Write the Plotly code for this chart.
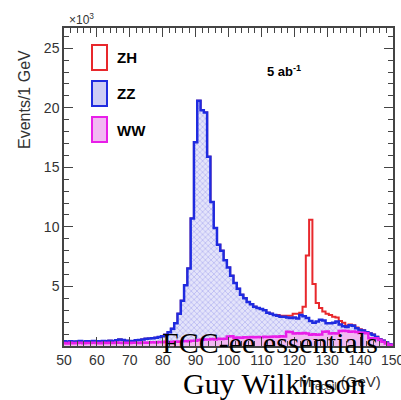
import numpy as np
import plotly.graph_objects as go

# Recoil mass bin centres (GeV), 1 GeV bins
mass = list(range(50, 151))
x_tick_values = [50, 60, 70, 80, 90, 100, 110, 120, 130, 140, 150]
y_tick_values = [5, 10, 15, 20, 25]

# Per-process events per 1 GeV bin (x10^3)
ww_events = [
    0.25, 0.22, 0.27, 0.24, 0.25, 0.28, 0.23, 0.26, 0.25, 0.27,
    0.25, 0.24, 0.28, 0.26, 0.27, 0.25, 0.30, 0.28, 0.26, 0.27,
    0.25, 0.27, 0.28, 0.26, 0.30, 0.28, 0.30, 0.32, 0.30, 0.33,
    0.32, 0.35, 0.34, 0.36, 0.38, 0.36, 0.40, 0.42, 0.40, 0.45,
    0.45, 0.50, 0.52, 0.55, 0.55, 0.58, 0.55, 0.60, 0.58, 0.60,
    0.80, 0.82, 0.70, 0.72, 0.70, 0.74, 0.72, 0.75, 0.73, 0.76,
    0.74, 0.78, 0.76, 0.78, 0.80, 0.78, 0.82, 0.80, 1.20, 1.18,
    1.05, 1.08, 1.05, 1.10, 1.05, 0.95, 0.98, 0.95, 0.97, 1.20,
    1.22, 1.05, 1.08, 1.05, 1.25, 1.28, 1.25, 1.20, 1.22, 1.18,
    1.10, 1.12, 1.08, 0.65, 0.62, 0.65, 0.50, 0.35, 0.20, 0.10, 0.04,
]
zz_events = [
    0.15, 0.13, 0.13, 0.11, 0.13, 0.14, 0.12, 0.14, 0.13, 0.15,
    0.15, 0.14, 0.14, 0.14, 0.18, 0.15, 0.18, 0.27, 0.24, 0.18,
    0.17, 0.13, 0.20, 0.24, 0.25, 0.32, 0.32, 0.33, 0.40, 0.42,
    0.50, 0.60, 0.81, 1.09, 1.52, 2.34, 3.40, 4.68, 6.10, 10.25,
    16.65, 20.10, 19.28, 19.05, 15.35, 11.52, 9.35, 7.90, 7.42, 6.60,
    5.80, 5.08, 4.60, 4.08, 3.60, 3.26, 2.98, 2.75, 2.57, 2.44,
    2.36, 2.22, 2.04, 1.92, 1.80, 1.77, 1.63, 1.65, 1.20, 1.17,
    1.35, 1.22, 1.55, 1.40, 1.30, 1.15, 0.97, 1.10, 1.23, 0.95,
    0.68, 0.85, 0.87, 1.00, 0.55, 0.37, 0.35, 0.55, 0.48, 0.32,
    0.25, 0.18, 0.07, 0.40, 0.33, 0.10, 0.05, 0.10, 0.10, 0.05, 0.01,
]
zh_events = [0.0] * 65 + [
    0.05, 0.08, 0.10, 0.15, 0.20,
    0.30, 0.40, 0.20, 0.80, 5.25, 8.50, 3.25, 1.55, 1.00, 0.75,
    0.80, 0.70, 0.50, 0.35, 0.30, 0.30, 0.10, 0.05, 0.05, 0.05,
    0.05, 0.03, 0.03, 0.02, 0.02, 0.02, 0.01, 0.01, 0.0, 0.0, 0.0,
]

ww = np.array(ww_events)
zz_top = ww + np.array(zz_events)
zh_top = zz_top + np.array(zh_events)

centres = np.array(mass, dtype=float)
edges = np.append(centres - 0.5, centres[-1] + 0.5)


def steps(vals):
    return list(edges), list(np.append(vals, vals[-1]))


fig = go.Figure()

x, y = steps(zh_top)
fig.add_trace(go.Scatter(x=x, y=y, mode="lines", line=dict(color="#e8282c", width=2, shape="hv"),
                         name="ZH", showlegend=False, hoverinfo="skip"))
x, y = steps(zz_top)
fig.add_trace(go.Scatter(x=x, y=y, mode="lines", line=dict(color="#1f2be0", width=2.5, shape="hv"),
                         fill="tozeroy",
                         fillpattern=dict(shape="x", fgcolor="rgba(110,110,230,0.75)",
                                          bgcolor="rgb(228,228,250)", size=4, solidity=0.35),
                         name="ZZ", showlegend=False, hoverinfo="skip"))
x, y = steps(ww)
fig.add_trace(go.Scatter(x=x, y=y, mode="lines", line=dict(color="#e81ee8", width=2.5, shape="hv"),
                         fill="tozeroy", fillcolor="rgb(242,185,242)",
                         name="WW", showlegend=False, hoverinfo="skip"))

axis_font = dict(family="Liberation Sans, Arial, sans-serif", size=14, color="#333")

fig.update_xaxes(range=[50, 150], tickvals=x_tick_values, ticks="inside", ticklen=9, tickwidth=1.2,
                 tickcolor="#444", showline=True, linecolor="#444", linewidth=1.5, mirror="allticks",
                 showgrid=False, zeroline=False, tickfont=axis_font, automargin=False,
                 minor=dict(dtick=2, ticks="inside", ticklen=5, tickcolor="#444", showgrid=False))
fig.update_yaxes(range=[0, 26.7], tickvals=y_tick_values, ticks="inside", ticklen=9, tickwidth=1.2,
                 tickcolor="#444", showline=True, linecolor="#444", linewidth=1.5, mirror="allticks",
                 showgrid=False, zeroline=False, tickfont=axis_font, automargin=False,
                 minor=dict(dtick=1, ticks="inside", ticklen=5, tickcolor="#444", showgrid=False))


def px(xp):
    return (xp - 64) / 329.0


def py(yp):
    return (346 - yp) / 318.0


shapes = []
legend = [("ZH", 45, "#e8282c", "white"),
          ("ZZ", 81, "#1f2be0", "rgb(205,205,245)"),
          ("WW", 117, "#e81ee8", "rgb(242,185,242)")]
annotations = []
for label, top, lc, fc in legend:
    shapes.append(dict(type="rect", xref="paper", yref="paper", x0=px(92), x1=px(107),
                       y0=py(top + 25), y1=py(top), line=dict(color=lc, width=2), fillcolor=fc))
    annotations.append(dict(text="<b>%s</b>" % label, xref="paper", yref="paper", x=px(115), y=py(top + 13),
                            xanchor="left", yanchor="middle", showarrow=False,
                            font=dict(family="Liberation Sans, Arial, sans-serif", size=15, color="black")))

annotations += [
    # last x tick label (plotly hides it because it overflows the page edge)
    dict(text=str(x_tick_values[-1]), xref="x", yref="paper", x=x_tick_values[-1], y=py(360),
         xanchor="center", yanchor="middle", showarrow=False, font=axis_font),
    dict(text="<b>5 ab<sup>-1</sup></b>", xref="paper", yref="paper", x=px(265), y=py(71),
         xanchor="left", yanchor="middle", showarrow=False,
         font=dict(family="Liberation Sans, Arial, sans-serif", size=13, color="black")),
    dict(text="×10<sup>3</sup>", xref="paper", yref="paper", x=px(67), y=py(19),
         xanchor="left", yanchor="middle", showarrow=False,
         font=dict(family="Liberation Sans, Arial, sans-serif", size=12, color="#333")),
    dict(text="Events/1 GeV", xref="paper", yref="paper", x=px(25), y=py(100), textangle=-90,
         xanchor="center", yanchor="middle", showarrow=False,
         font=dict(family="Liberation Sans, Arial, sans-serif", size=16, color="#333")),
    dict(text="M<sub>recoil</sub> (GeV)", xref="paper", yref="paper", x=px(383), y=py(382),
         xanchor="right", yanchor="middle", showarrow=False,
         font=dict(family="Liberation Sans, Arial, sans-serif", size=15, color="#333")),
    dict(text="FCC-ee essentials", xref="paper", yref="paper", x=px(270), y=py(342),
         xanchor="center", yanchor="middle", showarrow=False,
         font=dict(family="Liberation Serif, Times New Roman, serif", size=30, color="black")),
    dict(text="Guy Wilkinson", xref="paper", yref="paper", x=px(274), y=py(383),
         xanchor="center", yanchor="middle", showarrow=False,
         font=dict(family="Liberation Serif, Times New Roman, serif", size=30, color="black")),
]

fig.update_layout(width=401, height=400, margin=dict(l=64, r=8, t=28, b=54, autoexpand=False),
                  plot_bgcolor="white", paper_bgcolor="white", showlegend=False,
                  shapes=shapes, annotations=annotations, hovermode=False)

fig.write_html("out.html", config={"displayModeBar": False, "responsive": False},
               post_script="document.body.style.margin='0';document.body.style.padding='0';"
                           "document.body.style.overflow='hidden';")
